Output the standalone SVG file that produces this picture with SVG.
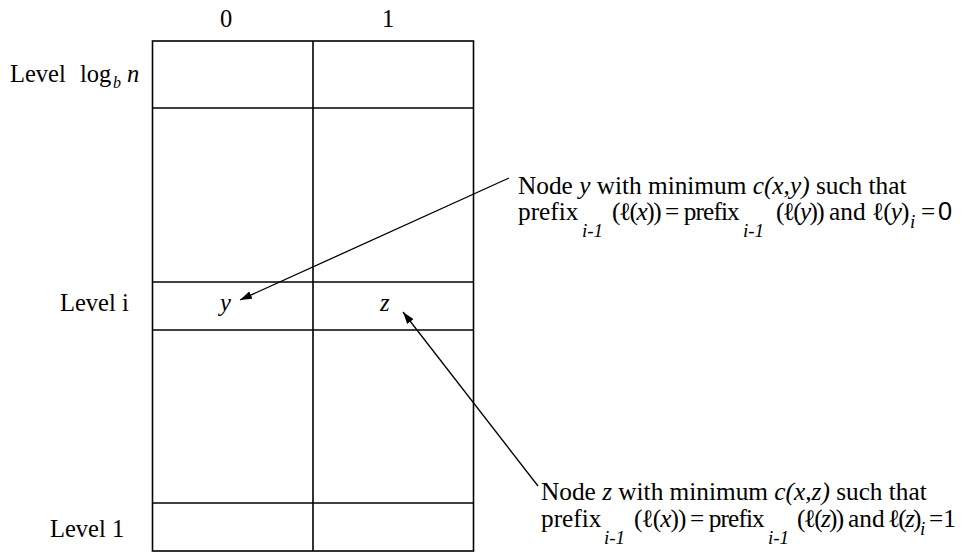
<svg xmlns="http://www.w3.org/2000/svg" width="965" height="553" viewBox="0 0 965 553">
<defs>
<style>
text{font-family:"Liberation Serif","Times New Roman",serif;font-size:24.5px;fill:#000}
.lab text{font-size:25.3px}
.it{font-style:italic}
text.sub,.lab text.sub{font-size:19px;font-style:italic}
text.subb{font-size:16px;font-style:italic}
.sans{font-family:"Liberation Sans",Arial,sans-serif}
.grid{stroke:#000;stroke-width:1.6;fill:none}
.conn{stroke:#000;stroke-width:1.3;fill:none}
</style>
<marker id="ah" viewBox="0 0 12 8" refX="12" refY="4" markerWidth="12" markerHeight="8" markerUnits="userSpaceOnUse" orient="auto">
<path d="M0,0 L12,4 L0,8 z" fill="#000"/>
</marker>
</defs>
<rect width="965" height="553" fill="#fff"/>
<g id="grid">
<rect class="grid" x="152.5" y="41" width="321" height="510"/>
<line class="grid" x1="313" y1="41" x2="313" y2="551"/>
<line class="grid" x1="152.5" y1="108" x2="473.5" y2="108"/>
<line class="grid" x1="152.5" y1="282" x2="473.5" y2="282" stroke="#333"/>
<line class="grid" x1="152.5" y1="330" x2="473.5" y2="330" stroke="#333"/>
<line class="grid" x1="152.5" y1="503" x2="473.5" y2="503"/>
</g>
<g id="col-labels">
<text x="220" y="27">0</text>
<text x="382" y="27">1</text>
</g>
<g id="level-labels">
<text x="10" y="82">Level</text>
<text x="80" y="82">log</text>
<text class="subb" x="113" y="88">b</text>
<text class="it" x="127" y="82">n</text>
<text x="60" y="311">Level i</text>
<text x="50" y="537">Level 1</text>
</g>
<g id="node-y">
<text class="it" x="220" y="311">y</text>
</g>
<g id="node-z">
<text class="it" x="380" y="311">z</text>
</g>
<g id="connectors">
<line class="conn" x1="509" y1="178" x2="240" y2="300" marker-end="url(#ah)"/>
<line class="conn" x1="538" y1="486" x2="403" y2="312" marker-end="url(#ah)"/>
</g>
<g id="label-y" class="lab">
<text x="518" y="194">Node <tspan class="it">y</tspan> with minimum <tspan class="it">c(x,y)</tspan> such that</text>
<text x="518" y="220">prefix</text>
<text class="sub" x="582" y="237">i-1</text>
<text x="612" y="220" letter-spacing="-1.5">(ℓ(<tspan class="it">x</tspan>))</text>
<text x="665" y="220" letter-spacing="-0.9">= prefix</text>
<text class="sub" x="743" y="237">i-1</text>
<text x="776" y="220" letter-spacing="-1.7">(ℓ(<tspan class="it">y</tspan>))</text>
<text x="829" y="220">and</text>
<text x="872" y="220" letter-spacing="-0.9">ℓ(<tspan class="it">y</tspan>)</text>
<text class="sub" x="910" y="228">i</text>
<text x="921" y="220">=</text>
<text class="sans" x="938" y="220">0</text>
</g>
<g id="label-z" class="lab">
<text x="541" y="500">Node <tspan class="it">z</tspan> with minimum <tspan class="it">c(x,z)</tspan> such that</text>
<text x="541" y="527">prefix</text>
<text class="sub" x="604" y="544">i-1</text>
<text x="634" y="527" letter-spacing="-0.9">(ℓ(<tspan class="it">x</tspan>))</text>
<text x="690" y="527" letter-spacing="-0.9">= prefix</text>
<text class="sub" x="768" y="544">i-1</text>
<text x="797" y="527" letter-spacing="-1.7">(ℓ(<tspan class="it">z</tspan>))</text>
<text x="848" y="527">and</text>
<text x="888" y="527" letter-spacing="-1.8">ℓ(<tspan class="it">z</tspan>)</text>
<text class="sub" x="920" y="535">i</text>
<text x="929" y="527">=1</text>
</g>
</svg>
